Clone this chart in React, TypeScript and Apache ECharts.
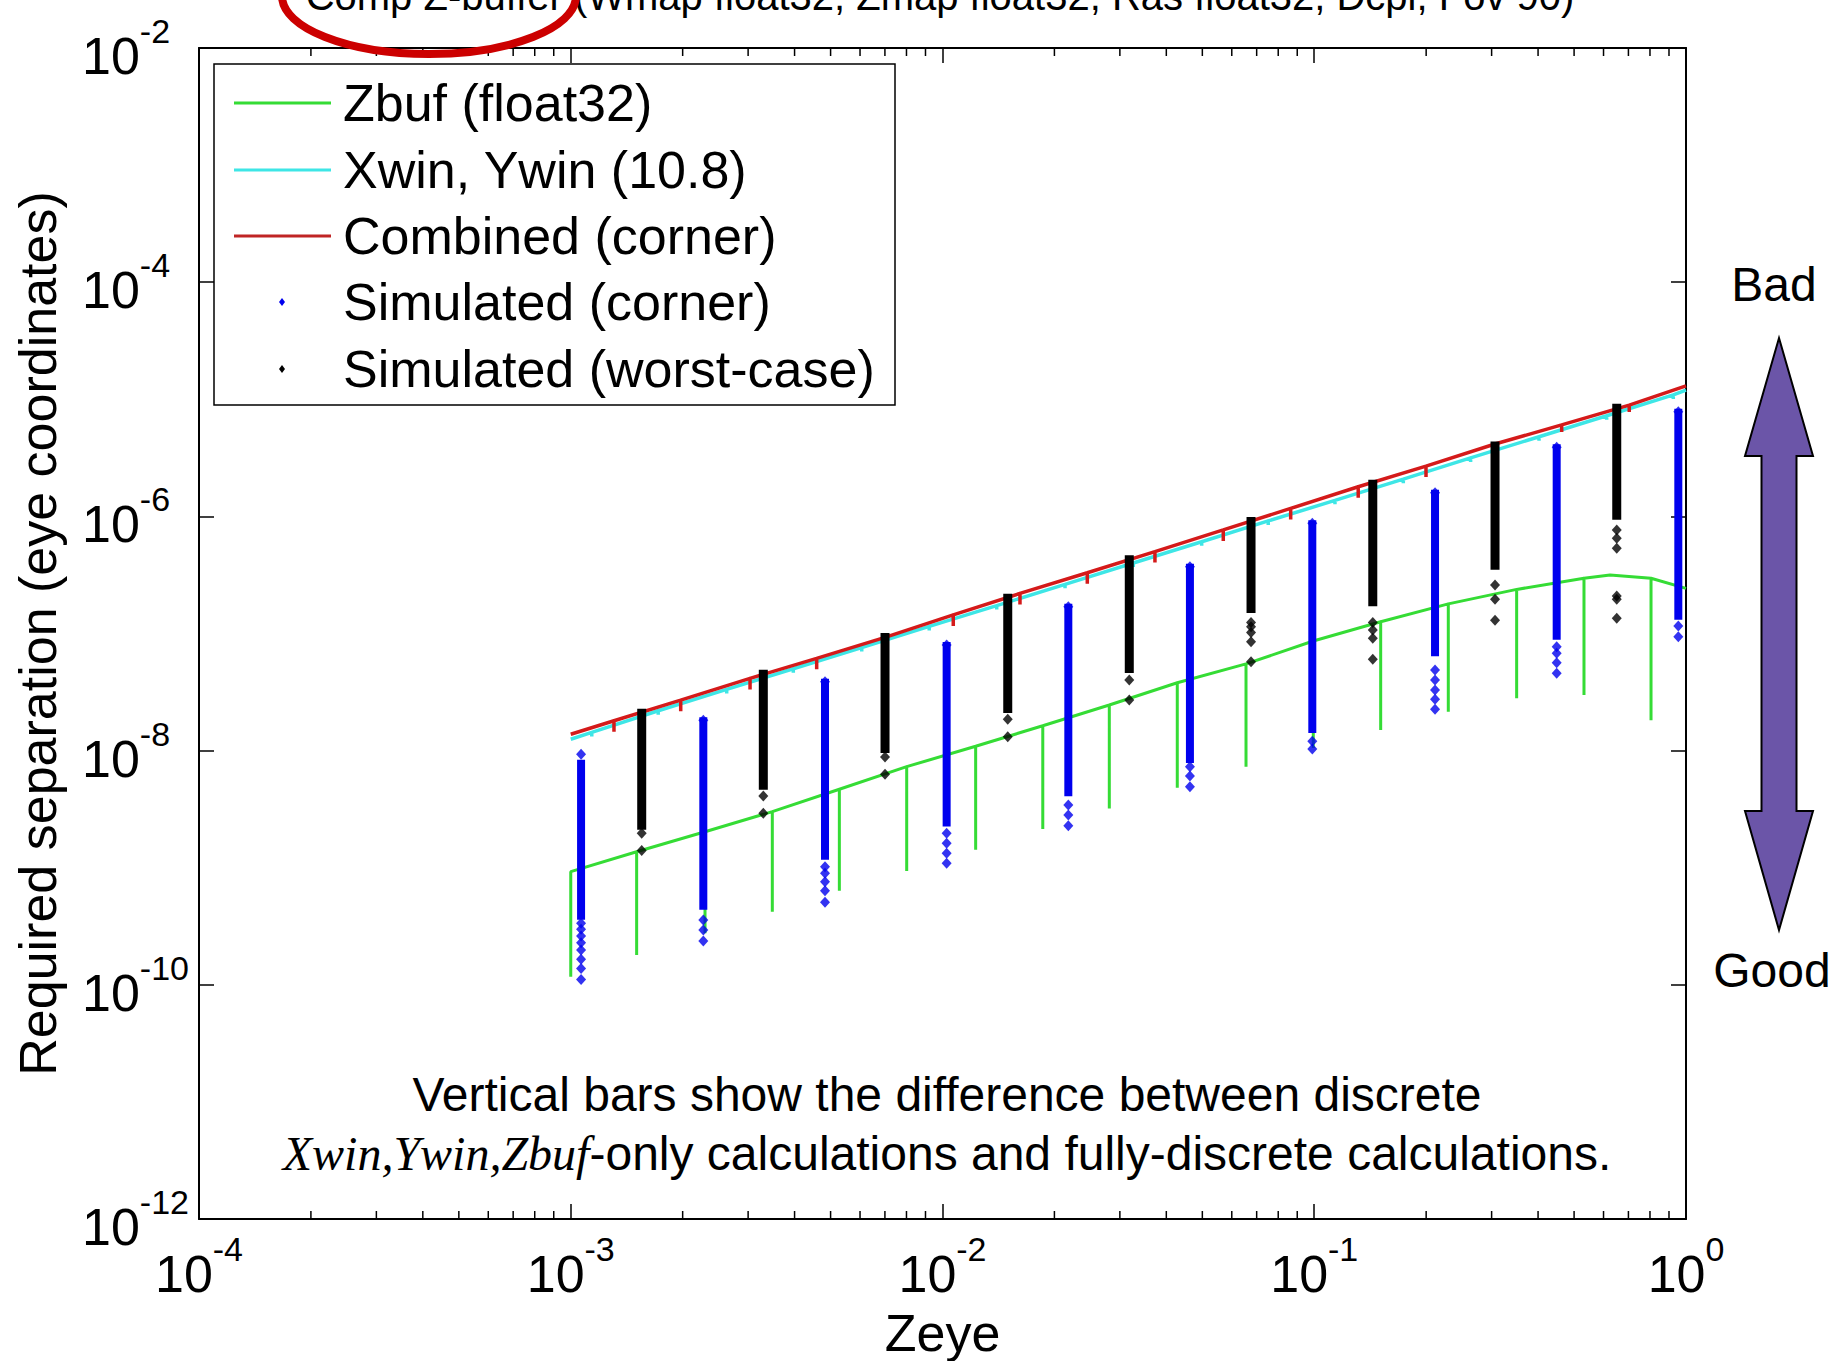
import React, { useEffect, useRef } from 'react';
import * as echarts from 'echarts';

// ---------- axis data ----------
const xDecades = [1e-4, 1e-3, 1e-2, 1e-1, 1];
const minorMultipliers = [2, 3, 4, 5, 6, 7, 8, 9];

// ---------- Zbuf (float32) : green line with downward bars ----------
const zbufSpikeX = [0.001, 0.001504, 0.002297, 0.003485, 0.005279, 0.008011, 0.01228, 0.01861, 0.0281, 0.04281, 0.06553, 0.0994, 0.1509, 0.2294, 0.3503, 0.5316, 0.8052];
const zbufSpikeTop = [9.25e-10, 1.37e-9, 2.03e-9, 3.01e-9, 4.68e-9, 7.29e-9, 1.09e-8, 1.63e-8, 2.45e-8, 3.8e-8, 5.5e-8, 8.63e-8, 1.26e-7, 1.79e-7, 2.38e-7, 2.96e-7, 2.96e-7];
const zbufSpikeBottom = [1.17e-10, 1.8e-10, 2.75e-10, 4.21e-10, 6.37e-10, 9.38e-10, 1.42e-9, 2.14e-9, 3.21e-9, 4.82e-9, 7.29e-9, 1.05e-8, 1.5e-8, 2.15e-8, 2.8e-8, 2.99e-8, 1.82e-8];
const zbufExtraX = [0.6246, 1];
const zbufExtraY = [3.16e-7, 2.43e-7];

// ---------- Xwin, Ywin (10.8) : cyan ----------
const xwinSpikeX = [0.001139, 0.001719, 0.002627, 0.003969, 0.006064, 0.00921, 0.01399, 0.02136, 0.0326, 0.0498, 0.0752, 0.1137, 0.1736, 0.2634, 0.4024, 0.6118, 0.9243];
const xwinSpikeTop = [1.43e-8, 2.19e-8, 3.33e-8, 5.0e-8, 7.59e-8, 1.15e-7, 1.73e-7, 2.63e-7, 4.0e-7, 6.08e-7, 9.15e-7, 1.37e-6, 2.08e-6, 3.16e-6, 4.79e-6, 7.24e-6, 1.09e-5];
const xwinSpikeBottom = [1.32e-8, 2.02e-8, 3.07e-8, 4.62e-8, 7.01e-8, 1.06e-7, 1.6e-7, 2.43e-7, 3.7e-7, 5.62e-7, 8.45e-7, 1.27e-6, 1.92e-6, 2.92e-6, 4.43e-6, 6.69e-6, 1.006e-5];
const xwinEndX = [0.001, 1];
const xwinEndY = [1.25e-8, 1.2e-5];

// ---------- Combined (corner) : red ----------
const combSpikeX = [0.001307, 0.001976, 0.003036, 0.004587, 0.007005, 0.01069, 0.01616, 0.02452, 0.03728, 0.05692, 0.08642, 0.1313, 0.1998, 0.3063, 0.463, 0.7036];
const combSpikeTop = [1.8e-8, 2.7e-8, 4.14e-8, 6.14e-8, 9.27e-8, 1.44e-7, 2.2e-7, 3.3e-7, 5.0e-7, 7.66e-7, 1.17e-6, 1.79e-6, 2.69e-6, 4.15e-6, 6.04e-6, 8.93e-6];
const combSpikeBottom = [1.45e-8, 2.17e-8, 3.33e-8, 4.94e-8, 7.46e-8, 1.16e-7, 1.77e-7, 2.66e-7, 4.03e-7, 6.17e-7, 9.4e-7, 1.44e-6, 2.17e-6, 3.34e-6, 5.25e-6, 7.8e-6];
const combEndX = [0.001, 1];
const combEndY = [1.38e-8, 1.3e-5];

// ---------- Simulated (corner) : blue ----------
const cornerX = [1.066e-3, 2.273e-3, 4.83e-3, 1.026e-2, 2.18e-2, 4.63e-2, 9.88e-2, 0.2113, 0.4489, 0.9535];
const cornerBarTop = [7.89e-9, 1.82e-8, 3.87e-8, 7.98e-8, 1.69e-7, 3.72e-7, 8.73e-7, 1.59e-6, 3.89e-6, 7.83e-6];
const cornerBarBottom = [3.82e-10, 4.65e-10, 1.24e-9, 2.39e-9, 4.32e-9, 8.32e-9, 1.5e-8, 6.77e-8, 9.4e-8, 1.39e-7];
const cornerSparse = [
  [9.29e-9, 3.35e-10, 2.98e-10, 2.61e-10, 2.29e-10, 1.98e-10, 1.65e-10, 1.38e-10, 1.11e-10],
  [1.82e-8, 3.57e-10, 2.94e-10, 2.37e-10],
  [3.87e-8, 1.02e-9, 8.96e-10, 7.59e-10, 6.37e-10, 5.07e-10],
  [7.98e-8, 1.97e-9, 1.62e-9, 1.33e-9, 1.09e-9],
  [1.69e-7, 3.43e-9, 2.82e-9, 2.28e-9],
  [3.72e-7, 7.29e-9, 6.07e-9, 4.92e-9],
  [8.73e-7, 1.2e-8, 1.03e-8],
  [1.59e-6, 4.88e-8, 4.01e-8, 3.29e-8, 2.74e-8, 2.25e-8],
  [3.89e-6, 7.71e-8, 6.77e-8, 5.63e-8, 4.57e-8],
  [7.83e-6, 1.16e-7, 9.4e-8],
];

// ---------- Simulated (worst-case) : black ----------
const worstX = [1.552e-3, 3.296e-3, 7.005e-3, 1.498e-2, 3.18e-2, 6.76e-2, 0.1437, 0.3064, 0.6512];
const worstBarTop = [2.15e-8, 4.62e-8, 9.53e-8, 2.06e-7, 4.39e-7, 9.31e-7, 1.94e-6, 4.11e-6, 8.65e-6];
const worstBarBottom = [2.24e-9, 4.92e-9, 1.01e-8, 2.22e-8, 4.88e-8, 1.59e-7, 1.81e-7, 3.72e-7, 9.93e-7];
const worstSparse = [
  [1.97e-9, 1.4e-9],
  [4.09e-9, 2.92e-9],
  [8.81e-9, 6.28e-9],
  [1.85e-8, 1.31e-8],
  [4.01e-8, 2.7e-8],
  [1.24e-7, 1.14e-7, 1.02e-7, 8.51e-8, 5.74e-8],
  [1.24e-7, 1.07e-7, 9.1e-8, 6.03e-8],
  [2.6e-7, 1.96e-7, 1.3e-7],
  [7.65e-7, 6.5e-7, 5.34e-7, 2.09e-7, 1.96e-7, 1.35e-7],
];

// ---------- texts ----------
const titleText = 'Comp Z-buffer (Wmap float32, Zmap float32, Ras float32, Dcpi, Fov 90)';
const legendNames = ['Zbuf (float32)', 'Xwin, Ywin (10.8)', 'Combined (corner)', 'Simulated (corner)', 'Simulated (worst-case)'];
const xName = 'Zeye';
const yName = 'Required separation (eye coordinates)';
const noteLine1 = 'Vertical bars show the difference between discrete';
const noteItalic = 'Xwin,Ywin,Zbuf';
const noteRest = '-only calculations and fully-discrete calculations.';

const FONT = '"Liberation Sans", Arial, Helvetica, sans-serif';
const GREEN = '#35dc35';
const CYAN = '#3ee6e6';
const RED = '#d41a1a';
const BLUE = '#0000ee';

function spikeLine(spX: number[], spTop: number[], spBot: number[], exX: number[], exY: number[]) {
  const pts: [number, number][] = [];
  spX.forEach((x, i) => {
    pts.push([x, spTop[i]], [x, spBot[i]], [x, spTop[i]]);
  });
  exX.forEach((x, i) => pts.push([x, exY[i]]));
  return pts.sort((a, b) => a[0] - b[0]);
}

function expLabel(v: number) {
  const e = Math.round(Math.log10(v));
  return `{b|10}{e|${e}}`;
}

const labelRich = {
  b: { fontSize: 52, fontFamily: FONT, color: '#000', verticalAlign: 'bottom' },
  e: { fontSize: 34, fontFamily: FONT, color: '#000', verticalAlign: 'bottom', padding: [0, 0, 34, 0] },
};

const minorTicks: number[] = [];
xDecades.slice(0, 4).forEach((d) => minorMultipliers.forEach((m) => minorTicks.push(d * m)));

function barSeries(name: string, xs: number[], tops: number[], bots: number[], color: string, w: number) {
  return {
    type: 'custom',
    name,
    silent: true,
    z: 5,
    data: xs.map((x, i) => [x, tops[i], bots[i]]),
    encode: { x: 0, y: [1, 2] },
    renderItem: (params: any, api: any) => {
      const p1 = api.coord([api.value(0), api.value(1)]);
      const p2 = api.coord([api.value(0), api.value(2)]);
      return {
        type: 'rect',
        shape: { x: p1[0] - w / 2, y: p1[1] - 3, width: w, height: p2[1] - p1[1] + 6 },
        style: { fill: color },
      };
    },
  };
}

function sparsePoints(xs: number[], lists: number[][]) {
  const pts: [number, number][] = [];
  xs.forEach((x, i) => lists[i].forEach((y) => pts.push([x, y])));
  return pts;
}

function legendRow(i: number) {
  const y = [103, 170, 236, 302, 369][i];
  const els: any[] = [];
  if (i < 3) {
    const c = [GREEN, CYAN, '#c02525'][i];
    els.push({ type: 'line', shape: { x1: 234, y1: y, x2: 331, y2: y }, style: { stroke: c, lineWidth: 3 } });
  } else {
    const c = i === 3 ? BLUE : '#000';
    els.push({ type: 'polygon', shape: { points: [[282, y - 4], [285, y], [282, y + 4], [279, y]] }, style: { fill: c } });
  }
  els.push({
    type: 'text',
    style: {
      text: legendNames[i], x: 343, y: y, font: `52px ${FONT}`, fill: '#000',
      align: 'left', verticalAlign: 'middle', textAlign: 'left', textVerticalAlign: 'middle',
    },
  });
  return els;
}

export default function App() {
  const ref = useRef<HTMLDivElement>(null);
  useEffect(() => {
    const chart = echarts.init(ref.current!, null, { renderer: 'svg' });
    const axisLine = { show: true, onZero: false, lineStyle: { color: '#000', width: 2 } };
    const option: any = {
      animation: false,
      backgroundColor: '#fff',
      grid: { left: 199, top: 48, width: 1487, height: 1171, containLabel: false, outerBoundsMode: 'none' },
      xAxis: [
        {
          type: 'log', logBase: 10, min: 1e-4, max: 1, interval: 1, position: 'bottom',
          axisLine, splitLine: { show: false },
          axisTick: { show: true, inside: true, length: 15, lineStyle: { color: '#000', width: 1.5 } },
          axisLabel: { formatter: expLabel, rich: labelRich, margin: 13, color: '#000' },
          name: xName, nameLocation: 'middle', nameGap: 88,
          nameTextStyle: { fontSize: 52, fontFamily: FONT, color: '#000' },
        },
        {
          type: 'log', logBase: 10, min: 1e-4, max: 1, interval: 1, position: 'top',
          axisLine, splitLine: { show: false },
          axisTick: { show: true, inside: true, length: 15, lineStyle: { color: '#000', width: 1.5 } },
          axisLabel: { show: false },
        },
      ],
      yAxis: [
        {
          type: 'log', logBase: 10, min: 1e-12, max: 1e-2, interval: 2, position: 'left',
          axisLine, splitLine: { show: false },
          axisTick: { show: true, inside: true, length: 15, lineStyle: { color: '#000', width: 1.5 } },
          axisLabel: { formatter: expLabel, rich: labelRich, margin: 117, align: 'left', color: '#000' },
          name: yName, nameLocation: 'middle', nameGap: 135,
          nameTextStyle: { fontSize: 52, fontFamily: FONT, color: '#000' },
        },
        {
          type: 'log', logBase: 10, min: 1e-12, max: 1e-2, interval: 2, position: 'right',
          axisLine, splitLine: { show: false },
          axisTick: { show: true, inside: true, length: 15, lineStyle: { color: '#000', width: 1.5 } },
          axisLabel: { show: false },
        },
      ],
      series: [
        {
          type: 'custom', name: 'minorTicks', silent: true, z: 1,
          data: minorTicks.map((v) => [v, 1e-7]),
          encode: { x: 0, y: 1 },
          renderItem: (params: any, api: any) => {
            const b = api.coord([api.value(0), 1e-12]);
            const t = api.coord([api.value(0), 1e-2]);
            const st = { stroke: '#000', lineWidth: 1.5 };
            return {
              type: 'group',
              children: [
                { type: 'line', shape: { x1: b[0], y1: b[1], x2: b[0], y2: b[1] - 8 }, style: st },
                { type: 'line', shape: { x1: t[0], y1: t[1], x2: t[0], y2: t[1] + 8 }, style: st },
              ],
            };
          },
        },
        {
          type: 'line', name: legendNames[0], showSymbol: false, symbol: 'none', z: 2,
          data: spikeLine(zbufSpikeX, zbufSpikeTop, zbufSpikeBottom, zbufExtraX, zbufExtraY),
          lineStyle: { color: GREEN, width: 3 },
        },
        {
          type: 'line', name: legendNames[1], showSymbol: false, symbol: 'none', z: 2,
          data: spikeLine(xwinSpikeX, xwinSpikeTop, xwinSpikeBottom, xwinEndX, xwinEndY),
          lineStyle: { color: CYAN, width: 3.5 },
        },
        {
          type: 'line', name: legendNames[2], showSymbol: false, symbol: 'none', z: 3,
          data: spikeLine(combSpikeX, combSpikeTop, combSpikeBottom, combEndX, combEndY),
          lineStyle: { color: RED, width: 3.5 },
        },
        barSeries('cornerBars', cornerX, cornerBarTop, cornerBarBottom, BLUE, 8),
        {
          type: 'scatter', name: legendNames[3], symbol: 'diamond', symbolSize: [10, 11], z: 6,
          data: sparsePoints(cornerX, cornerSparse), itemStyle: { color: BLUE },
        },
        barSeries('worstBars', worstX, worstBarTop, worstBarBottom, '#000', 9),
        {
          type: 'scatter', name: legendNames[4], symbol: 'diamond', symbolSize: [10, 11], z: 6,
          data: sparsePoints(worstX, worstSparse), itemStyle: { color: '#000' },
        },
      ],
      graphic: [
        {
          type: 'text', z: 10,
          style: { text: titleText, x: 940, y: -4, font: `40px ${FONT}`, fill: '#000', align: 'center', verticalAlign: 'middle', textAlign: 'center', textVerticalAlign: 'middle' },
        },
        { type: 'ellipse', z: 11, shape: { cx: 429, cy: -4, rx: 147, ry: 58 }, style: { fill: 'none', stroke: '#cc0000', lineWidth: 8 } },
        { type: 'rect', z: 10, shape: { x: 214, y: 64, width: 681, height: 341 }, style: { fill: '#fff', stroke: '#000', lineWidth: 1.5 } },
        ...[0, 1, 2, 3, 4].flatMap((i) => legendRow(i).map((e) => ({ ...e, z: 11 }))),
        {
          type: 'text', z: 10,
          style: { text: noteLine1, x: 947, y: 1094, font: `48px ${FONT}`, fill: '#000', align: 'center', verticalAlign: 'middle', textAlign: 'center', textVerticalAlign: 'middle' },
        },
        {
          type: 'text', z: 10,
          style: {
            text: `{i|${noteItalic}}{n|${noteRest}}`, x: 947, y: 1153, align: 'center', verticalAlign: 'middle', textAlign: 'center', textVerticalAlign: 'middle',
            rich: {
              i: { fontSize: 48, fontFamily: '"Liberation Serif", "Times New Roman", serif', fontStyle: 'italic', fill: '#000', color: '#000' },
              n: { fontSize: 48, fontFamily: FONT, fill: '#000', color: '#000' },
            },
          },
        },
        {
          type: 'text', z: 10,
          style: { text: 'Bad', x: 1774, y: 284, font: `48px ${FONT}`, fill: '#000', align: 'center', verticalAlign: 'middle', textAlign: 'center', textVerticalAlign: 'middle' },
        },
        {
          type: 'text', z: 10,
          style: { text: 'Good', x: 1772, y: 970, font: `48px ${FONT}`, fill: '#000', align: 'center', verticalAlign: 'middle', textAlign: 'center', textVerticalAlign: 'middle' },
        },
        {
          type: 'polygon', z: 10,
          shape: {
            points: [
              [1779, 338], [1813, 456], [1796.5, 456], [1796.5, 811], [1813, 811], [1779, 930],
              [1745, 811], [1761.5, 811], [1761.5, 456], [1745, 456],
            ],
          },
          style: { fill: '#6b55a8', stroke: '#000', lineWidth: 2 },
        },
      ],
    };
    chart.setOption(option);
    return () => chart.dispose();
  }, []);
  return (
    <div
      ref={ref}
      style={{ position: 'absolute', left: 0, top: 0, width: 1835, height: 1361, background: '#fff' }}
    />
  );
}
